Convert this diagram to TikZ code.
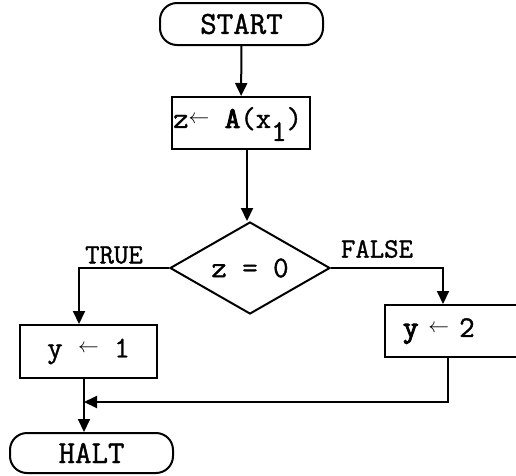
\documentclass[tikz,border=0pt]{standalone}
\usepackage{fontspec}
\setmonofont{Latin Modern Mono}[FakeBold=1.2,BoldFont={Latin Modern Mono},BoldFeatures={FakeBold=3.5}]
\usetikzlibrary{shapes.geometric,arrows.meta}
\newcommand{\lar}{\raisebox{4.5pt}{\fontsize{21}{21}\selectfont$\leftarrow$}}
\begin{document}
\begin{tikzpicture}[x=1pt,y=-1pt,
  every node/.style={font=\ttfamily\fontsize{30}{34}\selectfont},
  box/.style={draw,line width=2pt,rectangle,inner sep=0pt},
  term/.style={draw,line width=2pt,rectangle,rounded corners=17pt,inner sep=0pt,font=\ttfamily\fontsize{32}{36}\selectfont},
  dia/.style={draw,line width=2pt,diamond,inner sep=0pt,minimum width=160pt,minimum height=92pt,aspect=1.74},
  lbl/.style={font=\ttfamily\fontsize{28}{32}\selectfont,inner sep=0pt},
  arr/.style={line width=2pt,-{Triangle[length=13pt,width=12pt]}}]
\useasboundingbox (0,0) rectangle (516,475);
\node[term,minimum width=163pt,minimum height=42pt] (start) at (241.5,24) {START};
\node[box,minimum width=138pt,minimum height=52pt] (a) at (241,123) {};
\node[anchor=west,inner sep=0pt] (at) at (173,124) {z\lar\ \textbf{A}(x\raisebox{-13pt}{1})};
\node[dia] (d) at (250,268) {z = 0};
\node[lbl] (tl) at (114,255) {TRUE};
\node[lbl] (fl) at (377,249) {FALSE};
\node[box,minimum width=137pt,minimum height=53pt] (y1) at (88.5,351.5) {y \lar\ 1};
\node[box,minimum width=145pt,minimum height=52pt,text width=109pt,inner xsep=18pt,align=left] (y2) at (457.5,331) {\textbf{y} \lar\ 2};
\node[term,minimum width=163pt,minimum height=40pt] (halt) at (91.5,453) {HALT};
\coordinate (m) at (84,402);
\coordinate (ax) at (247,0);
\coordinate (tx) at (79,0);
\coordinate (fx) at (443,0);
\coordinate (bx) at (448,0);
\draw[arr] (start) -- (a);
\draw[arr] (a.south -| ax) -- (d.north -| ax);
\draw[arr] (d.west) -| (y1.north -| tx);
\draw[arr] (d.east) -| (y2.north -| fx);
\draw[arr] (y2.south -| bx) |- (m);
\draw[arr] (y1.south -| m) -- (halt.north -| m);
\end{tikzpicture}
\end{document}
